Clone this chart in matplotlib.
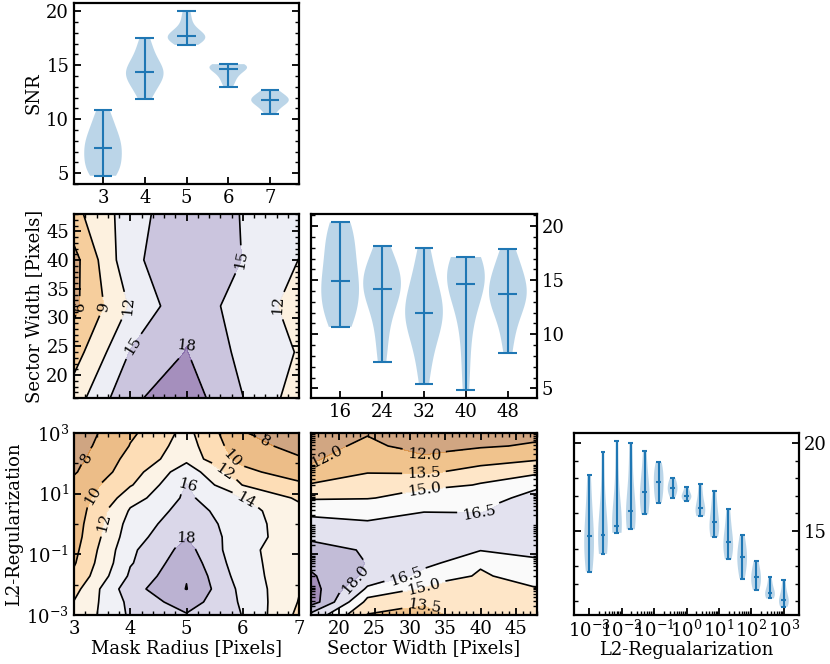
import numpy as np
import matplotlib
matplotlib.use('Agg')
import matplotlib.pyplot as plt
from matplotlib.ticker import (AutoMinorLocator, FixedLocator, NullLocator, NullFormatter,
                               LogLocator, MultipleLocator)

plt.rcParams['font.family'] = ['DejaVu Serif']
plt.rcParams['mathtext.fontset'] = 'dejavuserif'
plt.rcParams['font.size'] = 13
plt.rcParams['axes.linewidth'] = 1.6
plt.rcParams['axes.labelpad'] = 2.5
for a in ('xtick', 'ytick'):
    plt.rcParams[a + '.direction'] = 'in'
    plt.rcParams[a + '.major.size'] = 5
    plt.rcParams[a + '.minor.size'] = 3
    plt.rcParams[a + '.major.width'] = 1.3
    plt.rcParams[a + '.minor.width'] = 1.0
    plt.rcParams[a + '.labelsize'] = 13

# grid of the search
radius = [3, 4, 5, 6, 7]
sector = [16, 24, 32, 40, 48]
l2 = [1e-3, 2.68e-3, 7.2e-3, 1.93e-2, 5.18e-2, 0.139, 0.373, 1.0,
      2.68, 7.2, 19.3, 51.8, 139.0, 373.0, 1000.0]

# SNR samples for the violins
snr_by_radius = [
    [4.76, 4.95, 5.3, 5.8, 6.3, 6.8, 7.3, 7.6, 8.0, 8.5, 9.1, 9.9, 10.82],
    [11.83, 12.6, 13.2, 13.6, 13.9, 14.1, 14.4, 14.6, 14.9, 15.3, 15.9, 16.6, 17.5],
    [16.88, 17.15, 17.35, 17.5, 17.62, 17.7, 17.85, 18.05, 18.5, 19.2, 20.0],
    [13.02, 13.5, 13.9, 14.2, 14.45, 14.67, 14.8, 14.9, 14.97, 15.05, 15.1],
    [10.5, 10.95, 11.25, 11.5, 11.65, 11.75, 11.85, 12.0, 12.2, 12.45, 12.75],
]
snr_by_sector = [
    [10.68, 11.3, 12.2, 13.0, 13.8, 14.4, 14.94, 15.8, 16.8, 17.8, 18.8, 19.7, 20.34],
    [7.42, 9.5, 11.2, 12.5, 13.4, 13.9, 14.19, 14.7, 15.2, 15.6, 16.2, 17.0, 18.14],
    [5.37, 7.5, 9.2, 10.3, 11.1, 11.6, 11.99, 12.5, 13.1, 13.9, 15.0, 16.4, 18.0],
    [4.88, 8.0, 10.5, 12.3, 13.5, 14.2, 14.63, 15.2, 15.7, 16.1, 16.5, 16.8, 17.14],
    [8.26, 10.2, 11.5, 12.4, 13.0, 13.4, 13.76, 14.2, 14.7, 15.3, 16.0, 16.9, 17.89],
]
snr_by_l2 = [
    [12.7, 13.5, 14.1, 14.7, 15.4, 16.5, 18.2],
    [13.7, 14.2, 14.5, 14.8, 15.6, 17.0, 19.5],
    [14.9, 15.1, 15.2, 15.3, 16.2, 17.8, 20.1],
    [15.1, 15.5, 15.8, 16.15, 16.9, 18.2, 20.0],
    [15.95, 16.4, 16.8, 17.2, 17.7, 18.4, 19.55],
    [16.6, 17.0, 17.4, 17.8, 18.1, 18.5, 18.9],
    [16.9, 17.15, 17.3, 17.45, 17.6, 17.8, 18.0],
    [16.7, 16.85, 16.95, 17.0, 17.1, 17.3, 17.5],
    [15.85, 16.0, 16.15, 16.3, 16.6, 17.1, 17.66],
    [14.66, 14.9, 15.2, 15.5, 15.9, 16.5, 17.25],
    [13.4, 13.8, 14.1, 14.4, 14.8, 15.4, 16.25],
    [12.3, 12.8, 13.2, 13.5, 13.8, 14.2, 14.75],
    [11.64, 11.9, 12.15, 12.4, 12.6, 12.9, 13.3],
    [11.17, 11.3, 11.4, 11.5, 11.7, 12.0, 12.4],
    [10.7, 10.85, 11.0, 11.1, 11.3, 11.7, 12.2],
]

# 2D SNR maps
snr_radius_sector = [  # rows: sector width, cols: mask radius
    [10.5, 17.5, 19.6, 15.05, 10.5],
    [7.65, 15.15, 18.1, 14.2, 11.8],
    [5.3, 12.3, 17.3, 13.5, 11.1],
    [5.0, 14.3, 17.2, 14.95, 11.95],
    [8.1, 13.5, 17.5, 14.84, 13.0],
]
snr_radius_l2 = [  # one list per mask radius, along l2
    [12.4, 12.05, 11.3, 10.3, 9.8, 9.45, 9.15, 9.0, 8.8, 8.7, 8.4, 7.8, 7.3, 7.0, 6.8],
    [16.3, 16.5, 17.2, 16.3, 15.8, 15.6, 15.1, 14.75, 14.2, 13.0, 11.8, 11.0, 10.6, 10.07, 9.6],
    [17.9, 19.0, 20.06, 19.85, 19.3, 18.7, 17.9, 17.3, 16.8, 16.4, 16.05, 15.2, 13.2, 12.9, 12.6],
    [15.95, 15.7, 15.4, 14.95, 14.65, 14.5, 14.9, 14.98, 14.86, 13.9, 11.95, 10.4, 9.25, 8.6, 8.1],
    [11.5, 11.9, 12.2, 12.5, 12.8, 12.9, 12.9, 12.7, 12.4, 11.7, 10.2, 9.2, 8.1, 7.5, 7.0],
]
snr_sector_l2 = [  # one list per sector width, along l2
    [17.7, 20.4, 20.2, 19.7, 18.9, 18.2, 17.85, 16.9, 16.0, 14.8, 13.6, 12.2, 11.8, 11.3, 10.9],
    [13.45, 14.6, 16.3, 17.7, 17.95, 17.95, 17.2, 16.6, 16.0, 14.9, 14.2, 13.4, 12.9, 12.4, 11.8],
    [13.2, 13.7, 14.9, 16.1, 17.0, 17.8, 17.6, 17.2, 16.4, 15.6, 14.4, 13.3, 12.2, 11.3, 10.8],
    [14.0, 14.2, 14.5, 14.8, 15.3, 16.6, 17.0, 16.9, 16.4, 15.9, 15.1, 13.9, 12.8, 11.8, 11.0],
    [14.1, 14.5, 14.95, 15.7, 16.3, 17.0, 17.3, 17.4, 17.3, 17.0, 16.1, 14.6, 13.3, 12.2, 11.3],
]

levels_rs = [3, 6, 9, 12, 15, 18, 21]
levels_rl = [6, 8, 10, 12, 14, 16, 18, 20, 22]
levels_sl = [10.5, 12.0, 13.5, 15.0, 16.5, 18.0, 19.5, 21.0]

# where the contour labels sit
labels_rs = [(3.1, 32), (3.5, 32), (3.95, 32), (4.2, 24), (5.0, 25.5), (6.0, 40), (6.65, 32)]
labels_rl = [(3.25, 10**2.16), (6.36, 10**2.59), (3.4, 10**0.87), (5.81, 10**2.16),
             (3.63, 1.0), (5.66, 10**1.66), (6.04, 10**0.73), (5.02, 10**1.28),
             (4.97, 10**-0.42)]
labels_sl = [(18.4, 10**2.12), (32, 10**2.18), (32, 10**1.63), (32, 10**1.11),
             (39.8, 10**0.31), (21.9, 10**-1.73), (29.4, 10**-1.73), (32, 10**-2.08),
             (32, 10**-2.6)]

W, H = 830, 664
fig = plt.figure(figsize=(W / 100, H / 100), dpi=100)

def box(x0, x1, y0, y1):
    return fig.add_axes([x0 / W, 1 - y1 / H, (x1 - x0) / W, (y1 - y0) / H])

ax_r = box(74, 299, 3, 184)
ax_rs = box(74, 299, 214, 398)
ax_s = box(311, 537, 214, 398)
ax_rl = box(74, 299, 433, 615)
ax_sl = box(311, 537, 433, 615)
ax_l = box(574, 799, 433, 615)


def violin_style(ax, right_labels):
    ax.yaxis.set_major_locator(MultipleLocator(5))
    ax.yaxis.set_minor_locator(MultipleLocator(1))
    ax.xaxis.set_minor_locator(NullLocator())
    ax.tick_params(axis='x', which='both', top=False, bottom=True)
    ax.tick_params(axis='y', which='both', left=True, right=True,
                   labelleft=not right_labels, labelright=right_labels)


def contour(ax, x, y, z, levels, spots, logy=False):
    if logy:
        ax.set_yscale('log')
    ax.set_xlim(min(x), max(x))
    ax.set_ylim(min(y), max(y))
    ax.contourf(x, y, z, levels=levels, cmap='PuOr', alpha=0.5)
    cs = ax.contour(x, y, z, levels=levels, colors='k', linewidths=1.2)
    ax.clabel(cs, inline=True, fontsize=11, manual=spots)
    ax.tick_params(which='both', top=True, right=True)
    ax.xaxis.set_minor_locator(AutoMinorLocator())


# mask radius violins
ax_r.violinplot(snr_by_radius, positions=radius, widths=0.9, showmedians=True)
ax_r.set_xticks(radius)
ax_r.set_ylabel('SNR')
violin_style(ax_r, False)

# sector width violins
pos_s = np.arange(1, len(sector) + 1)
ax_s.violinplot(snr_by_sector, positions=pos_s, widths=0.9, showmedians=True)
ax_s.set_xticks(pos_s)
ax_s.set_xticklabels([str(s) for s in sector])
violin_style(ax_s, True)

# l2 violins
pos_l = np.log10(l2)
ax_l.violinplot(snr_by_l2, positions=pos_l, widths=0.3, showmedians=True)
ax_l.set_xticks(range(-3, 4))
ax_l.set_xticklabels([f'$10^{{{k}}}$' for k in range(-3, 4)])
violin_style(ax_l, True)
ax_l.xaxis.set_minor_locator(FixedLocator(
    [d + np.log10(m) for d in range(-3, 3) for m in range(2, 10)]))
ax_l.set_xlabel('L2-Regualarization', labelpad=0)

# radius vs sector
contour(ax_rs, radius, sector, np.array(snr_radius_sector), levels_rs, labels_rs)
ax_rs.set_xticks(radius)
ax_rs.set_yticks([20, 25, 30, 35, 40, 45])
ax_rs.yaxis.set_minor_locator(AutoMinorLocator())
ax_rs.tick_params(labelbottom=False)
ax_rs.set_ylabel('Sector Width [Pixels]')

# radius vs l2
contour(ax_rl, radius, l2, np.array(snr_radius_l2).T, levels_rl, labels_rl, logy=True)
ax_rl.set_xticks(radius)
ax_rl.yaxis.set_major_locator(FixedLocator([1e-3, 1e-1, 1e1, 1e3]))
ax_rl.yaxis.set_minor_locator(FixedLocator([1e-2, 1e0, 1e2]))
ax_rl.yaxis.set_minor_formatter(NullFormatter())
ax_rl.set_xlabel('Mask Radius [Pixels]', labelpad=1)
ax_rl.set_ylabel('L2-Regularization')

# sector vs l2
contour(ax_sl, sector, l2, np.array(snr_sector_l2).T, levels_sl, labels_sl, logy=True)
ax_sl.set_xticks([20, 25, 30, 35, 40, 45])
ax_sl.yaxis.set_major_locator(FixedLocator([1e-3, 1e-1, 1e1, 1e3]))
ax_sl.yaxis.set_minor_locator(LogLocator(base=10, subs=np.arange(2, 10), numticks=20))
ax_sl.yaxis.set_minor_formatter(NullFormatter())
ax_sl.tick_params(labelleft=False)
ax_sl.set_xlabel('Sector Width [Pixels]', labelpad=1)

fig.savefig('out.png', dpi=100)
